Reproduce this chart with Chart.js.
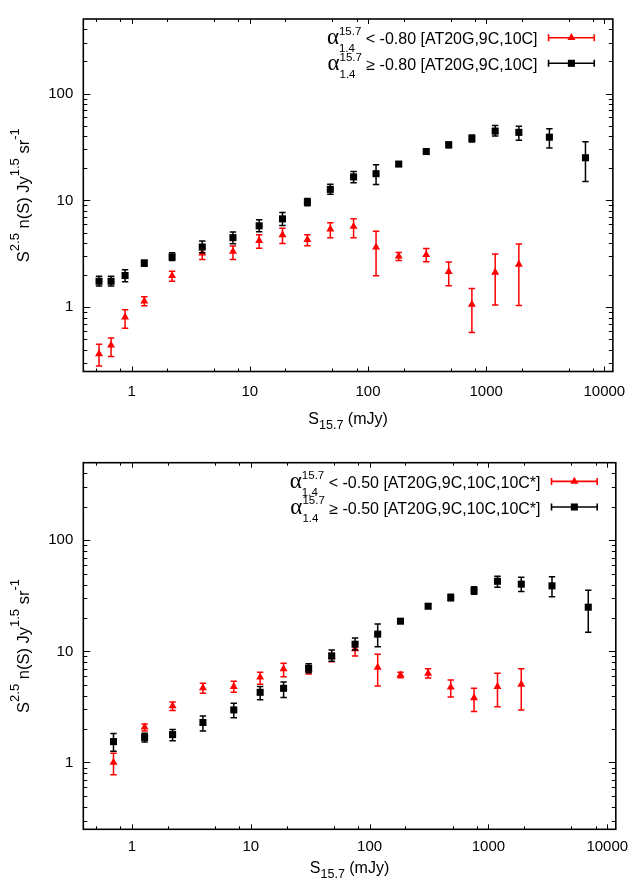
<!DOCTYPE html>
<html>
<head>
<meta charset="utf-8">
<script src="https://cdn.jsdelivr.net/npm/chart.js@4.4.1/dist/chart.umd.min.js"></script>
<style>
  html, body { margin: 0; padding: 0; background: #fff; width: 637px; height: 881px; overflow: hidden; }
  .box { position: absolute; left: 0; width: 637px; }
  canvas { display: block; }
</style>
</head>
<body>
<div class="box" style="top:0px;height:440px"><canvas id="c1" width="637" height="440" style="width:637px;height:440px"></canvas></div>
<div class="box" style="top:440px;height:441px"><canvas id="c2" width="637" height="441" style="width:637px;height:441px"></canvas></div>
<script>
// ---------------- DATA ----------------
// Tick labels
const xTickValues = [1, 10, 100, 1000, 10000];
const yTickValues = [1, 10, 100];
const xMinorMultipliers = [2, 5, 8];
const yMinorMultipliers = [2, 3, 4, 5, 6, 7, 8, 9];

// Top panel: alpha cut -0.80
const topLegendSteep = "< -0.80 [AT20G,9C,10C]";
const topLegendFlat = "\u2265 -0.80 [AT20G,9C,10C]";
const topFlatS = [0.53, 0.67, 0.88, 1.28, 2.2, 3.96, 7.2, 12.0, 18.9, 30.7, 48, 75.5, 117, 182, 311, 482, 757, 1192, 1890, 3427, 6920];
const topFlatN = [1.75, 1.75, 1.98, 2.59, 2.96, 3.66, 4.48, 5.78, 6.72, 9.62, 12.7, 16.6, 17.8, 21.9, 28.7, 33.2, 38.0, 44.6, 43.4, 39.1, 25.1];
const topFlatLo = [1.58, 1.58, 1.73, 2.42, 2.74, 3.23, 3.92, 5.1, 5.82, 8.9, 11.4, 14.6, 14.1, 21.0, 27.3, 31.1, 35.2, 40.2, 36.7, 31.0, 15.0];
const topFlatHi = [1.95, 1.95, 2.24, 2.76, 3.23, 4.18, 5.07, 6.59, 7.72, 10.4, 14.2, 18.7, 21.6, 22.9, 30.0, 35.0, 41.0, 50.3, 49.5, 46.8, 35.5];

const topSteepS = [0.53, 0.67, 0.88, 1.28, 2.2, 3.96, 7.2, 12.0, 18.9, 30.7, 48, 75.5, 117, 182, 311, 482, 757, 1192, 1890];
const topSteepN = [0.365, 0.44, 0.807, 1.14, 1.97, 3.21, 3.32, 4.2, 4.76, 4.29, 5.39, 5.7, 3.64, 3.0, 3.1, 2.15, 1.06, 2.12, 2.52];
const topSteepLo = [0.281, 0.345, 0.634, 1.03, 1.75, 2.8, 2.8, 3.56, 3.95, 3.76, 4.48, 4.48, 1.97, 2.74, 2.67, 1.59, 0.58, 1.05, 1.04];
const topSteepHi = [0.449, 0.515, 0.946, 1.25, 2.17, 3.56, 3.74, 4.76, 5.5, 4.76, 6.19, 6.72, 5.14, 3.26, 3.54, 2.65, 1.50, 3.15, 3.9];

// Bottom panel: alpha cut -0.50
const botLegendSteep = "< -0.50 [AT20G,9C,10C,10C*]";
const botLegendFlat = "\u2265 -0.50 [AT20G,9C,10C,10C*]";
const botFlatS = [0.70, 1.28, 2.2, 3.96, 7.2, 12.0, 18.9, 30.7, 48, 75.5, 117, 182, 311, 482, 757, 1192, 1890, 3427, 6920];
const botFlatN = [1.54, 1.68, 1.78, 2.29, 2.97, 4.28, 4.65, 7.04, 9.08, 11.6, 14.3, 18.7, 25.5, 30.5, 35.3, 42.8, 40.3, 38.9, 25.0];
const botFlatLo = [1.26, 1.53, 1.57, 1.92, 2.52, 3.66, 3.84, 6.43, 8.13, 10.3, 11.0, 18.0, 24.4, 28.5, 32.7, 37.8, 34.6, 31.0, 14.9];
const botFlatHi = [1.82, 1.83, 1.98, 2.62, 3.41, 4.82, 5.3, 7.75, 10.3, 13.2, 17.6, 19.5, 26.8, 32.7, 38.1, 47.5, 46.5, 46.9, 35.6];

const botSteepS = [0.70, 1.28, 2.2, 3.96, 7.2, 12.0, 18.9, 30.7, 48, 75.5, 117, 182, 311, 482, 757, 1192, 1890];
const botSteepN = [1.0, 2.08, 3.23, 4.69, 4.82, 5.84, 6.94, 6.8, 8.95, 10.5, 7.18, 6.13, 6.34, 4.75, 3.81, 4.82, 5.05];
const botSteepLo = [0.775, 1.92, 2.93, 4.2, 4.28, 5.05, 5.92, 6.26, 8.08, 9.08, 4.88, 5.8, 5.76, 3.89, 2.87, 3.18, 2.97];
const botSteepHi = [1.21, 2.22, 3.51, 5.16, 5.38, 6.48, 7.8, 7.39, 9.6, 11.8, 9.4, 6.48, 6.98, 5.53, 4.65, 6.34, 6.98];

// ---------------- STYLE / HELPERS ----------------
const SANS = '"Liberation Sans", Arial, Helvetica, sans-serif';
const SERIF = '"Liberation Serif", "DejaVu Serif", serif';
const RED = '#ff0000';
const BLACK = '#000000';

function fontStr(size, fam) { return size + 'px ' + fam; }
function itemWidth(ctx, it) {
  if (it.stack) return Math.max.apply(null, it.stack.map(s => itemWidth(ctx, s)));
  ctx.font = fontStr(it.s, it.f || SANS);
  return ctx.measureText(it.t).width;
}
function richWidth(ctx, items) { return items.reduce((a, it) => a + itemWidth(ctx, it), 0); }
function drawItems(ctx, items, x, y) {
  let cx = x;
  for (const it of items) {
    const w = itemWidth(ctx, it);
    if (it.stack) { for (const s of it.stack) drawItems(ctx, [s], cx, y); }
    else {
      ctx.font = fontStr(it.s, it.f || SANS);
      ctx.fillText(it.t, cx, y + (it.dy || 0));
    }
    cx += w;
  }
}
function drawMarker(ctx, style, x, y, r, color) {
  ctx.fillStyle = color;
  ctx.beginPath();
  if (style === 'rect') {
    const h = Math.SQRT1_2 * r;
    ctx.rect(x - h, y - h, 2 * h, 2 * h);
  } else {
    const a = 2 * Math.PI / 3;
    ctx.moveTo(x, y - r);
    ctx.lineTo(x + Math.sin(a) * r, y - Math.cos(a) * r);
    ctx.lineTo(x + Math.sin(2 * a) * r, y - Math.cos(2 * a) * r);
    ctx.closePath();
  }
  ctx.fill();
}
function pts(xs, ys) { return xs.map((x, i) => ({ x: x, y: ys[i] })); }

// Error bars drawn just before each dataset's points
const errorBarPlugin = {
  id: 'errorBars',
  beforeDatasetDraw(chart, args) {
    const ds = chart.data.datasets[args.index];
    if (!ds.lo) return;
    const xs = chart.scales.x, ys = chart.scales.y, ctx = chart.ctx;
    ctx.save();
    ctx.strokeStyle = ds.errColor;
    ctx.lineWidth = 1.5;
    ds.data.forEach((p, i) => {
      const px = xs.getPixelForValue(p.x);
      const pt = ys.getPixelForValue(ds.hi[i]);
      const pb = ys.getPixelForValue(ds.lo[i]);
      ctx.beginPath();
      ctx.moveTo(px, pt); ctx.lineTo(px, pb);
      ctx.moveTo(px - 3.2, pt); ctx.lineTo(px + 3.2, pt);
      ctx.moveTo(px - 3.2, pb); ctx.lineTo(px + 3.2, pb);
      ctx.stroke();
    });
    ctx.restore();
  }
};

// Frame with inward gnuplot-style ticks on all four sides
const framePlugin = {
  id: 'frame',
  beforeDatasetsDraw(chart) {
    const ctx = chart.ctx, a = chart.chartArea, xs = chart.scales.x, ys = chart.scales.y;
    ctx.save();
    ctx.strokeStyle = BLACK;
    ctx.lineWidth = 1;
    const xMin = xs.min, xMax = xs.max, yMin = ys.min, yMax = ys.max;
    ctx.beginPath();
    for (let e = -1; e <= 4; e++) {
      const dec = Math.pow(10, e);
      const list = [{ v: dec, L: 5 }].concat(xMinorMultipliers.map(m => ({ v: m * dec, L: 3 })));
      list.forEach(t => {
        if (t.v <= xMin || t.v >= xMax) return;
        const px = Math.round(xs.getPixelForValue(t.v)) + 0.5;
        ctx.moveTo(px, a.bottom); ctx.lineTo(px, a.bottom - t.L);
        ctx.moveTo(px, a.top); ctx.lineTo(px, a.top + t.L);
      });
    }
    for (let e = -1; e <= 2; e++) {
      const dec = Math.pow(10, e);
      const list = [{ v: dec, L: 7 }].concat(yMinorMultipliers.map(m => ({ v: m * dec, L: 4 })));
      list.forEach(t => {
        if (t.v <= yMin || t.v >= yMax) return;
        const py = Math.round(ys.getPixelForValue(t.v)) + 0.5;
        ctx.moveTo(a.left, py); ctx.lineTo(a.left + t.L, py);
        ctx.moveTo(a.right, py); ctx.lineTo(a.right - t.L, py);
      });
    }
    ctx.stroke();
    ctx.lineWidth = 1.6;
    ctx.strokeRect(a.left, a.top, a.right - a.left, a.bottom - a.top);
    ctx.restore();
  }
};

// Axis titles and legend with sub/superscripts
const textPlugin = {
  id: 'richText',
  afterDraw(chart, args, opts) {
    const ctx = chart.ctx, a = chart.chartArea;
    ctx.save();
    ctx.fillStyle = BLACK;
    ctx.textAlign = 'left';
    ctx.textBaseline = 'alphabetic';
    // x title
    const xt = [{ t: 'S', s: 16 }, { t: '15.7', s: 12.5, dy: 5 }, { t: ' (mJy)', s: 16 }];
    const xw = richWidth(ctx, xt);
    drawItems(ctx, xt, (a.left + a.right) / 2 - xw / 2, a.bottom + opts.xTitleOffset);
    // y title
    const yt = [{ t: 'S', s: 16.5 }, { t: '2.5', s: 13, dy: -10 }, { t: ' n(S) Jy', s: 16.5 },
                { t: '1.5', s: 13, dy: -10 }, { t: ' sr', s: 16.5 }, { t: '-1', s: 13, dy: -10 }];
    const yw = richWidth(ctx, yt);
    ctx.save();
    ctx.translate(28.5, (a.top + a.bottom) / 2);
    ctx.rotate(-Math.PI / 2);
    drawItems(ctx, yt, -yw / 2, 0);
    ctx.restore();
    // legend
    const rows = [a.top + 18.7, a.top + 44.3];
    const order = [1, 0];
    order.forEach((di, r) => {
      const ds = chart.data.datasets[di];
      const y = rows[r];
      const items = [
        { t: '\u03b1', s: 23, f: SERIF },
        { stack: [{ t: '15.7', s: 11.5, dy: -9.5 }, { t: '1.4', s: 11.5, dy: 8 }] },
        { t: ' ' + ds.label, s: 16 }
      ];
      const w = richWidth(ctx, items);
      ctx.fillStyle = BLACK;
      drawItems(ctx, items, a.right - 75.3 - w, y + 6.7);
      const x1 = a.right - 64.3, x2 = a.right - 18.6;
      ctx.strokeStyle = ds.errColor;
      ctx.lineWidth = 1.6;
      ctx.beginPath();
      ctx.moveTo(x1, y); ctx.lineTo(x2, y);
      ctx.moveTo(x1, y - 3.5); ctx.lineTo(x1, y + 3.5);
      ctx.moveTo(x2, y - 3.5); ctx.lineTo(x2, y + 3.5);
      ctx.stroke();
      drawMarker(ctx, ds.pointStyle, (x1 + x2) / 2, y, ds.pointRadius, ds.backgroundColor);
    });
    ctx.restore();
  }
};

function makeChart(id, cfg) {
  const ctx = document.getElementById(id).getContext('2d');
  return new Chart(ctx, {
    type: 'scatter',
    data: {
      datasets: [
        {
          label: cfg.flatLabel,
          data: pts(cfg.flatS, cfg.flatN),
          lo: cfg.flatLo, hi: cfg.flatHi, errColor: BLACK,
          pointStyle: 'rect', pointRadius: 5, pointBorderWidth: 0,
          backgroundColor: BLACK, borderColor: BLACK
        },
        {
          label: cfg.steepLabel,
          data: pts(cfg.steepS, cfg.steepN),
          lo: cfg.steepLo, hi: cfg.steepHi, errColor: RED,
          pointStyle: 'triangle', pointRadius: 4.6, pointBorderWidth: 0,
          backgroundColor: RED, borderColor: RED
        }
      ]
    },
    options: {
      responsive: false,
      animation: false,
      events: [],
      clip: false,
      layout: { padding: { left: 0, right: 17.7, top: cfg.padTop, bottom: 0 } },
      plugins: {
        legend: { display: false },
        tooltip: { enabled: false },
        title: { display: false },
        richText: { xTitleOffset: cfg.xTitleOffset }
      },
      scales: {
        x: {
          type: 'logarithmic',
          min: 0.39, max: 11800,
          grid: { display: false, drawTicks: false },
          border: { display: false },
          afterBuildTicks: s => { s.ticks = xTickValues.map(v => ({ value: v })); },
          afterFit: s => { s.height = cfg.xAxisH; },
          ticks: {
            autoSkip: false, maxRotation: 0, padding: cfg.xTickPad,
            color: BLACK, font: { family: SANS, size: 15 },
            callback: v => String(v)
          }
        },
        y: {
          type: 'logarithmic',
          min: 0.25, max: 500,
          grid: { display: false, drawTicks: false },
          border: { display: false },
          afterBuildTicks: s => { s.ticks = yTickValues.map(v => ({ value: v })); },
          afterFit: s => { s.width = 83.3; },
          ticks: {
            autoSkip: false, padding: 10,
            color: BLACK, font: { family: SANS, size: 15 },
            callback: v => String(v)
          }
        }
      }
    },
    plugins: [framePlugin, errorBarPlugin, textPlugin]
  });
}

makeChart('c1', {
  flatLabel: topLegendFlat, steepLabel: topLegendSteep,
  flatS: topFlatS, flatN: topFlatN, flatLo: topFlatLo, flatHi: topFlatHi,
  steepS: topSteepS, steepN: topSteepN, steepLo: topSteepLo, steepHi: topSteepHi,
  padTop: 4.7, xAxisH: 68.5, xTickPad: 11.5, xTitleOffset: 52.5
});
makeChart('c2', {
  flatLabel: botLegendFlat, steepLabel: botLegendSteep,
  flatS: botFlatS, flatN: botFlatN, flatLo: botFlatLo, flatHi: botFlatHi,
  steepS: botSteepS, steepN: botSteepN, steepLo: botSteepLo, steepHi: botSteepHi,
  padTop: 22.7, xAxisH: 51.7, xTickPad: 8.6, xTitleOffset: 43.7
});
</script>
</body>
</html>
